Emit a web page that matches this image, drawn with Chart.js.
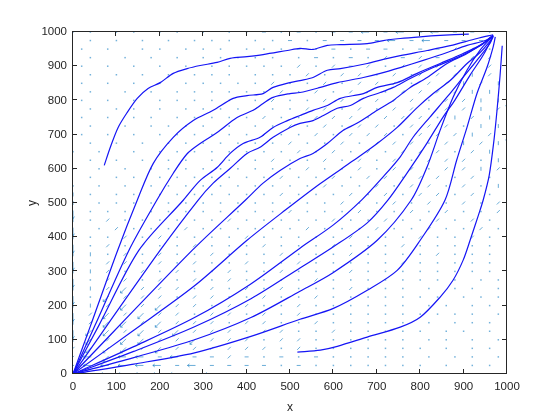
<!DOCTYPE html>
<html><head><meta charset="utf-8">
<script src="https://cdn.jsdelivr.net/npm/chart.js@4/dist/chart.umd.min.js"></script>
<style>html,body{margin:0;padding:0;background:#fff}</style>
</head><body>
<canvas id="c" width="560" height="420"></canvas>
<script>
// ---- tick labels ----
const xTicks = [0,100,200,300,400,500,600,700,800,900,1000];
const yTicks = [0,100,200,300,400,500,600,700,800,900,1000];

// ---- streamlines (x, y) ----
const line1 = [[72,610],[86,663],[104,721],[125,765],[148,806],[173,835],[201,852],[231,879],[263,893],[293,902],[332,911],[362,923],[401,928],[438,934],[494,946],[523,952],[553,949],[586,961],[616,963],[678,966],[715,975],[754,981],[800,986],[846,990],[912,994]];
const line2 = [[0,0],[40,140],[103,362],[148,508],[185,616],[231,692],[277,741],[323,771],[369,806],[401,814],[438,820],[461,838],[500,852],[523,858],[553,867],[586,888],[616,893],[678,908],[715,920],[754,931],[816,946],[869,960],[931,981],[968,992]];
const line3 = [[0,0],[50,140],[129,362],[193,508],[231,587],[263,644],[293,674],[332,706],[378,750],[415,771],[438,791],[461,809],[500,820],[523,823],[570,838],[609,852],[669,867],[708,879],[754,896],[807,917],[862,940],[908,961],[950,975],[968,990]];
const line4 = [[0,0],[60,143],[152,362],[254,508],[293,566],[332,604],[362,645],[392,674],[431,692],[461,721],[494,741],[523,756],[553,771],[586,785],[616,806],[669,820],[701,838],[747,852],[793,879],[846,908],[899,937],[945,966],[968,990]];
const line5 = [[0,0],[201,362],[288,508],[323,558],[362,601],[401,645],[431,663],[461,692],[500,721],[523,733],[553,741],[577,756],[609,777],[639,785],[669,806],[708,823],[738,838],[777,864],[830,896],[885,925],[938,960],[968,990]];
const line6 = [[0,0],[275,362],[397,508],[438,558],[477,595],[523,630],[553,645],[586,674],[622,712],[654,733],[701,771],[738,800],[777,838],[816,867],[862,908],[908,937],[954,975],[968,990]];
const line7 = [[0,0],[140,128],[280,258],[401,391],[490,480],[570,557],[646,624],[701,674],[747,721],[793,779],[830,820],[869,858],[908,908],[938,940],[968,984]];
const line8 = [[0,0],[140,80],[280,165],[408,262],[523,368],[600,436],[666,510],[715,577],[754,635],[784,693],[823,752],[862,810],[899,868],[931,918],[961,967],[968,988]];
const line9 = [[0,0],[140,66],[280,138],[410,220],[523,310],[600,372],[678,442],[726,509],[770,588],[816,676],[853,752],[880,801],[915,874],[945,932],[968,988]];
const line10 = [[0,0],[140,48],[280,100],[410,165],[523,242],[600,297],[701,391],[779,508],[816,606],[846,713],[876,810],[908,889],[938,947],[965,985]];
const line11 = [[0,0],[140,29],[280,62],[410,110],[523,160],[600,192],[678,245],[747,303],[800,391],[857,508],[884,625],[908,722],[931,821],[954,897],[968,956],[973,986]];
const line12 = [[517,64],[570,70],[609,81],[678,108],[754,137],[800,166],[846,225],[876,275],[899,333],[915,391],[934,464],[945,508],[959,581],[970,684],[977,771],[984,873],[989,960]];
const streamlines = [line1,line2,line3,line4,line5,line6,line7,line8,line9,line10,line11,line12];

// ---- quiver grid (arrow kinds) ----
const quiverX = [0,20,40,60,80,100,120,140,160,180,200,220,240,260,280,300,320,340,360,380,400,420,440,460,480,500,520,540,560,580,600,620,640,660,680,700,720,740,760,780,800,820,840,860,880,900,920,940,960,980,1000];
const quiverY = [1000,975,950,925,900,875,850,825,800,775,750,725,700,675,650,625,600,575,550,525,500,475,450,425,400,375,350,325,300,275,250,225,200,175,150,125,100,75,50,25,0];
// '.' tiny, '-' short horizontal, '_' long left, '|' short vertical, 'I' long down, '/' short diagonal, 'X' long down-left
const quiverRows = [
  [". .  . .  ", ". .  .  . ", ". - . - . ", "- - _ - _ ", "- _ - - . ", " "],
  ["  .  .  . ", " .  . . . ", " . . - . -", " - - - _ -", " _ - - -  ", "."],
  [" .  .   . ", ".  . . .  ", ". . . - . ", "- . - - . ", "- - / / . ", "|"],
  ["  .   .  .", "  .  . . .", " . .  . - ", ". - . / - ", "/ - / / / ", "|"],
  [" .  .  .  ", ".  .  . . ", ". . . / . ", "/ - / . / ", "/ / . / / ", "|"],
  ["  .  .  . ", " .  . . . ", " . . . / .", " / / . / .", "/ / / | / ", "|"],
  [" .  .  .  ", ".  . . . .", " . / . . /", " . / / / .", " / / | / |", "|"],
  ["  .   .  .", "  . . . . ", ". . / . / ", ". / / . / ", "/ / / | | ", "|"],
  [" .  .  .  ", ". . . . . ", " . / . . /", " / . / / /", " . / / | |", "I"],
  ["  .  . .  ", ".  . . . .", " / . . / /", " . / . / /", " . / / | /", "|"],
  [" .  .  . .", "  . . . . ", ". / . . / ", "/ / . / / ", "/ . | / | ", "|"],
  ["  .   .  .", " . . .  . ", " . . / . /", " . / / . /", " / / . | |", "|"],
  [" .  .  .  ", ". . . . . ", ". / . . / ", ". / / / . ", "/ / / | / ", "I"],
  ["  .  .  . ", " . . . . .", " . . / . .", " / . / / /", " . / | / |", "|"],
  [".  .   .  ", ". . . . . ", ". . . / . ", "/ . / . / ", "/ / . / | ", "|"],
  ["  .  .  . ", " . .  . . ", " . / . . /", " . / . / .", " / / / . |", "|"],
  [".  .  .  .", " . . . . .", " . . . / .", " . / . / /", " . / / | /", "|"],
  ["  .  . .  ", ". . . . . ", ". . / . . ", "/ . / / . ", "/ / . / . ", "|"],
  [".  .  .  .", " . . . . .", " . . . . /", " . . / . /", " / . / . |", "."],
  ["| .  . .  ", ". . . . . ", ". . / . . ", ". / . / . ", "/ / . / . ", "|"],
  ["|  . . . .", " . . . . .", " . . . . .", " / . . / .", " / . / . /", "."],
  ["I . . .  .", " . . . . .", " . . / . .", " . / . . /", " . / . . /", "|"],
  ["| . / . . ", ". . . . / ", ". . . . . ", "/ . . / . ", ". / . / . ", "."],
  ["I  . / . .", " . / . . .", " . . . / .", " . . / . .", " / . . / .", "|"],
  ["| . . / . ", "/ . . . . ", "/ . . . . ", ". / . . . ", "/ . . / . ", "."],
  ["I . / . / ", ". . / . . ", ". / . . . ", "/ . . . / ", ". . . . . ", "|"],
  ["| | . / . ", "/ . . / . ", ". . / . . ", ". / . . . ", ". / . . . ", "."],
  ["I . / / . ", "/ . / . . ", "/ . . / . ", ". . . . / ", ". . . . . ", "."],
  ["| | / . / ", ". / . . / ", ". . / . . ", ". / . . . ", ". . . . . ", "."],
  ["I . / / . ", "/ . / . / ", ". . . . / ", ". . . . . ", ". . .  . .", "."],
  ["| | / X / ", "/ / . / . ", "/ . / . . ", ". / . . . ", " .  . .  .", " "],
  ["I . X / / ", "/ . / / . ", ". / . . / ", ". . . . . ", ". .  . . .", "."],
  ["| | / X / ", "X / / . / ", "/ . . / . ", ". . . . . ", " . .  . . ", " "],
  ["I / X / X ", "/ / . / / ", ". / . / . ", ". . . . . ", ". . . .  .", "."],
  ["| / X X / ", "X / / / . ", "/ / . . / ", ". . . . . ", " .  . . . ", " "],
  ["I X X / X ", "/ X / / / ", ". / / . . ", "/ . . . . ", ".  . .  . ", "."],
  ["| X / X X ", "/ / X / / ", "/ . / / . ", ". . . . . ", " . .  .  .", " "],
  ["/ X X X / ", "X / / / / ", "/ / . / . ", ". . . . . ", ".  .  . . ", "."],
  ["X _ X _ _ ", "- _ - - / ", "- . - . - ", ". . . . . ", " .  . .  .", " "],
  ["_ _ _ _ _ ", "_ - _ - - ", "- - . - . ", ". . . . . ", ".  .  . . ", "."],
  ["_ _ _ _ _ ", "_ _ - _ - ", "- . - . . ", ". . . . . ", " .  .  .  ", " "]
];

const TEXT = '#262626';
const FONT = 'Liberation Sans, Arial, Helvetica, sans-serif';

function drawGlyph(ctx, ch, px, py) {
  const seg = (x1,y1,x2,y2) => { ctx.beginPath(); ctx.moveTo(x1,y1); ctx.lineTo(x2,y2); ctx.stroke(); };
  switch (ch) {
    case '.': ctx.fillRect(px-0.75, py-0.75, 1.5, 1.5); break;
    case '-': seg(px-2, py, px+2, py); break;
    case '_': seg(px+1, py, px-7, py); seg(px-7, py, px-5, py-1.5); seg(px-7, py, px-5, py+1.5); break;
    case '|': seg(px, py-2, px, py+2); break;
    case 'I': seg(px, py-1, px, py+7); seg(px, py+7, px-1.5, py+5); seg(px, py+7, px+1.5, py+5); break;
    case '/': seg(px-1.5, py+1.5, px+1.5, py-1.5); break;
    case 'X': seg(px+1, py-1, px-4.5, py+4.5); seg(px-4.5, py+4.5, px-4.5, py+2.3); seg(px-4.5, py+4.5, px-2.3, py+4.5); break;
  }
}

const quiverPlugin = {
  id: 'quiver',
  beforeDatasetsDraw(chart) {
    const {ctx, chartArea: a, scales: {x, y}} = chart;
    ctx.save();
    ctx.beginPath(); ctx.rect(a.left, a.top, a.right - a.left, a.bottom - a.top); ctx.clip();
    ctx.lineWidth = 0.9;
    ctx.strokeStyle = 'rgba(0,114,189,0.65)';
    ctx.fillStyle = 'rgba(0,114,189,0.55)';
    quiverRows.forEach((row, ri) => {
      const chars = row.map(c => c.padEnd(10).slice(0, 10)).join('');
      for (let ci = 0; ci < quiverX.length; ci++) {
        const ch = chars[ci] || ' ';
        if (ch === ' ') continue;
        drawGlyph(ctx, ch, x.getPixelForValue(quiverX[ci]), y.getPixelForValue(quiverY[ri]));
      }
    });
    ctx.restore();
  }
};

const axesPlugin = {
  id: 'matlabAxes',
  afterDraw(chart) {
    const {ctx, chartArea: a, scales: {x, y}} = chart;
    const L = Math.round(a.left) - 0.5, R = Math.round(a.right) - 0.5;
    const T = Math.round(a.top) - 0.5, B = Math.round(a.bottom) - 0.5;
    ctx.save();
    ctx.strokeStyle = TEXT; ctx.lineWidth = 1;
    ctx.strokeRect(L, T, R - L, B - T);
    const tl = 4.5;
    ctx.beginPath();
    xTicks.forEach(v => {
      const px = Math.round(x.getPixelForValue(v)) - 0.5;
      ctx.moveTo(px, B); ctx.lineTo(px, B - tl);
      ctx.moveTo(px, T); ctx.lineTo(px, T + tl);
    });
    yTicks.forEach(v => {
      const py = Math.round(y.getPixelForValue(v)) - 0.5;
      ctx.moveTo(L, py); ctx.lineTo(L + tl, py);
      ctx.moveTo(R, py); ctx.lineTo(R - tl, py);
    });
    ctx.stroke();
    ctx.fillStyle = TEXT;
    ctx.font = '12px ' + FONT;
    ctx.textAlign = 'center'; ctx.textBaseline = 'middle';
    ctx.fillText('x', (a.left + a.right) / 2, 408);
    ctx.translate(33, (a.top + a.bottom) / 2);
    ctx.rotate(-Math.PI / 2);
    ctx.fillText('y', 0, 0);
    ctx.restore();
  }
};

const datasets = streamlines.map(l => ({
  data: l.map(([px, py]) => ({x: px, y: py})),
  showLine: true, borderColor: '#1515f5', borderWidth: 1.2,
  pointRadius: 0, tension: 0.3, fill: false
}));

new Chart(document.getElementById('c'), {
  type: 'scatter',
  data: {datasets},
  options: {
    responsive: false, animation: false, devicePixelRatio: 1,
    layout: {padding: {left: 0, right: 53, top: 32, bottom: 0}},
    plugins: {legend: {display: false}, tooltip: {enabled: false}},
    scales: {
      x: {
        type: 'linear', min: 0, max: 1000,
        grid: {display: false, drawTicks: false}, border: {display: false},
        afterBuildTicks: s => { s.ticks = xTicks.map(v => ({value: v})); },
        ticks: {autoSkip: false, maxRotation: 0, padding: 6, color: TEXT, font: {family: FONT, size: 11.5}, callback: v => String(v)},
        afterFit: s => { s.height = 46; }
      },
      y: {
        type: 'linear', min: 0, max: 1000,
        grid: {display: false, drawTicks: false}, border: {display: false},
        afterBuildTicks: s => { s.ticks = yTicks.map(v => ({value: v})); },
        ticks: {autoSkip: false, padding: 6, color: TEXT, font: {family: FONT, size: 11.5}, callback: v => String(v)},
        afterFit: s => { s.width = 73; }
      }
    }
  },
  plugins: [quiverPlugin, axesPlugin]
});
</script>
</body></html>
